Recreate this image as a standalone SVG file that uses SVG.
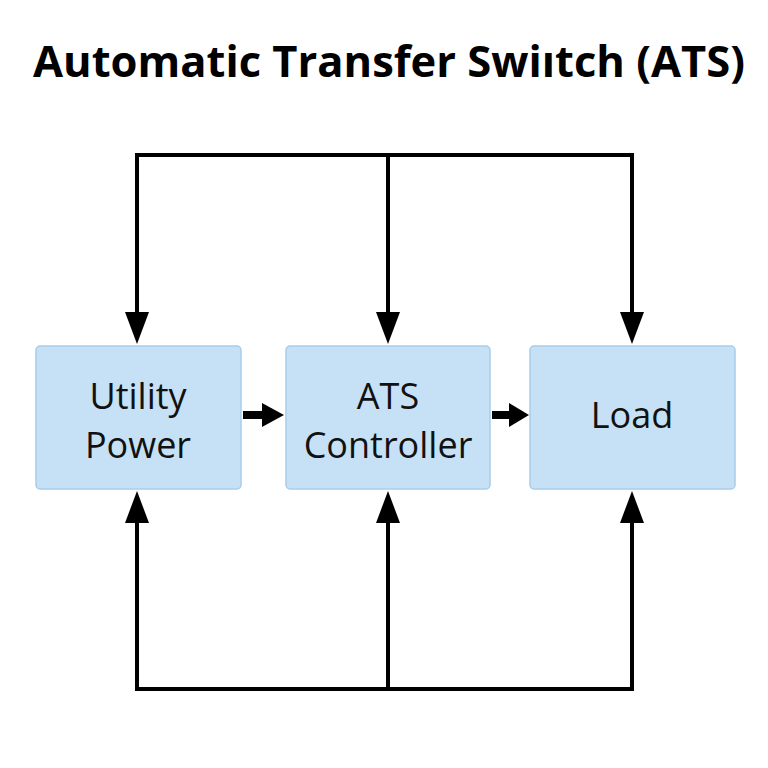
<svg xmlns="http://www.w3.org/2000/svg" width="768" height="768" viewBox="0 0 768 768">
<style>
.box{fill:#c6e1f5;stroke:#a9cde9;stroke-width:1.5}
.lbl{font-family:"Open Sans","Liberation Sans",sans-serif;font-size:36px;fill:#111;text-anchor:middle}
.title{font-family:"Open Sans","Liberation Sans",sans-serif;font-size:43.5px;font-weight:bold;fill:#000;text-anchor:middle}
.wire{fill:none;stroke:#000;stroke-width:4}
.thick{fill:none;stroke:#000;stroke-width:8}
</style>
<rect width="768" height="768" fill="#fff"/>
<text class="title" x="389" y="77">Automatic Transfer Swiıtch (ATS)</text>
<g id="connectors">
<path class="wire" d="M137,312 V155 H632 V312 M388,155 V312"/>
<path class="wire" d="M137,523 V689 H632 V523 M388,689 V523"/>
<polygon points="125,312 149,312 137,344" fill="#000"/>
<polygon points="376,312 400,312 388,344" fill="#000"/>
<polygon points="620,312 644,312 632,344" fill="#000"/>
<polygon points="125,523 149,523 137,491" fill="#000"/>
<polygon points="376,523 400,523 388,491" fill="#000"/>
<polygon points="620,523 644,523 632,491" fill="#000"/>
<path class="thick" d="M243,415 H264"/>
<polygon points="262,403 262,427 284,415" fill="#000"/>
<path class="thick" d="M492,415 H511"/>
<polygon points="509,403 509,427 529,415" fill="#000"/>
</g>
<g id="utility">
<rect class="box" x="36" y="346" width="205" height="143" rx="4"/>
<text class="lbl" x="138" y="409">Utility</text>
<text class="lbl" x="138" y="458">Power</text>
</g>
<g id="ats">
<rect class="box" x="286" y="346" width="204" height="143" rx="4"/>
<text class="lbl" x="388" y="409">ATS</text>
<text class="lbl" x="388" y="458">Controller</text>
</g>
<g id="load">
<rect class="box" x="530" y="346" width="205" height="143" rx="4"/>
<text class="lbl" x="632" y="428">Load</text>
</g>
</svg>
